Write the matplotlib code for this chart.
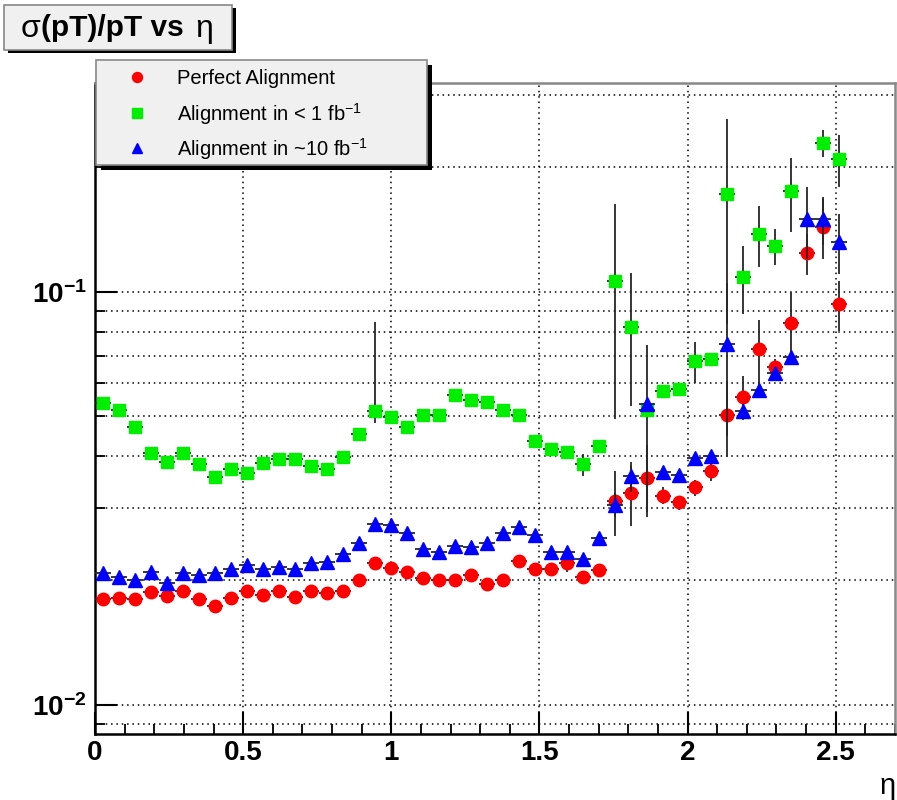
import numpy as np
import matplotlib
matplotlib.use('Agg')
import matplotlib.pyplot as plt
from matplotlib.patches import Rectangle
from matplotlib.lines import Line2D
from matplotlib.ticker import FixedLocator, FixedFormatter, MultipleLocator, NullFormatter

plt.rcParams['font.family'] = ['Liberation Sans', 'DejaVu Sans']
plt.rcParams['mathtext.fontset'] = 'custom'
plt.rcParams['mathtext.rm'] = 'Liberation Sans'
plt.rcParams['mathtext.bf'] = 'Liberation Sans:bold'
plt.rcParams['mathtext.it'] = 'Liberation Sans:italic'

# eta bin centres (50 bins over 0-2.7, first 47 filled)
eta = [0.027, 0.081, 0.135, 0.189, 0.243, 0.297, 0.351, 0.405, 0.459, 0.513,
       0.567, 0.621, 0.675, 0.729, 0.783, 0.837, 0.891, 0.945, 0.999, 1.053,
       1.107, 1.161, 1.215, 1.269, 1.323, 1.377, 1.431, 1.485, 1.539, 1.593,
       1.647, 1.701, 1.755, 1.809, 1.863, 1.917, 1.971, 2.025, 2.079, 2.133,
       2.187, 2.241, 2.295, 2.349, 2.403, 2.457, 2.511]
bin_half = 0.027

perfect = [0.0180, 0.0181, 0.0180, 0.0188, 0.0183, 0.0189, 0.0180, 0.0173, 0.0181, 0.0189,
           0.0184, 0.0189, 0.0182, 0.0189, 0.0187, 0.0189, 0.0200, 0.0220, 0.0214, 0.0210,
           0.0203, 0.0201, 0.0201, 0.0206, 0.0196, 0.0201, 0.0223, 0.0213, 0.0213, 0.0220,
           0.0204, 0.0212, 0.0312, 0.0325, 0.0355, 0.0321, 0.0309, 0.0336, 0.0368, 0.0504,
           0.0557, 0.0725, 0.0658, 0.0838, 0.1239, 0.1437, 0.0934]
perfect_err = [0.0004, 0.0004, 0.0004, 0.0004, 0.0004, 0.0004, 0.0004, 0.0004, 0.0004, 0.0004,
               0.0004, 0.0004, 0.0004, 0.0004, 0.0004, 0.0004, 0.0004, 0.0004, 0.0004, 0.0004,
               0.0004, 0.0004, 0.0004, 0.0004, 0.0004, 0.0004, 0.0004, 0.0004, 0.0004, 0.0010,
               0.0005, 0.0005, 0.0056, 0.0054, 0.0070, 0.0015, 0.0012, 0.0015, 0.0020, 0.0105,
               0.0067, 0.0130, 0.0030, 0.0160, 0.0140, 0.0240, 0.0130]

early = [0.0537, 0.0518, 0.0470, 0.0408, 0.0388, 0.0406, 0.0383, 0.0356, 0.0372, 0.0364,
         0.0385, 0.0394, 0.0394, 0.0379, 0.0373, 0.0399, 0.0453, 0.0514, 0.0497, 0.0471,
         0.0502, 0.0502, 0.0562, 0.0547, 0.0541, 0.0517, 0.0502, 0.0436, 0.0416, 0.0409,
         0.0382, 0.0422, 0.1063, 0.0820, 0.0518, 0.0576, 0.0581, 0.0678, 0.0686, 0.1723,
         0.1087, 0.1380, 0.1290, 0.1752, np.nan, 0.2286, 0.2094]
early_err_lo = [0.0008, 0.0008, 0.0008, 0.0008, 0.0008, 0.0008, 0.0008, 0.0008, 0.0008, 0.0008,
                0.0008, 0.0008, 0.0008, 0.0008, 0.0008, 0.0008, 0.0008, 0.0034, 0.0008, 0.0008,
                0.0008, 0.0008, 0.0008, 0.0008, 0.0008, 0.0008, 0.0008, 0.0008, 0.0008, 0.0008,
                0.0023, 0.0008, 0.0570, 0.0290, 0.0225, 0.0018, 0.0015, 0.0078, 0.0020, 0.0890,
                0.0205, 0.0230, 0.0130, 0.0360, 0.0, 0.0170, 0.0300]
early_err_hi = [0.0008, 0.0008, 0.0008, 0.0008, 0.0008, 0.0008, 0.0008, 0.0008, 0.0008, 0.0008,
                0.0008, 0.0008, 0.0008, 0.0008, 0.0008, 0.0008, 0.0008, 0.0330, 0.0008, 0.0008,
                0.0008, 0.0008, 0.0008, 0.0008, 0.0008, 0.0008, 0.0008, 0.0008, 0.0008, 0.0008,
                0.0023, 0.0008, 0.0570, 0.0290, 0.0225, 0.0018, 0.0015, 0.0078, 0.0020, 0.0890,
                0.0205, 0.0230, 0.0130, 0.0360, 0.0, 0.0170, 0.0300]

later = [0.0208, 0.0204, 0.0201, 0.0210, 0.0197, 0.0209, 0.0206, 0.0208, 0.0213, 0.0218,
         0.0213, 0.0215, 0.0213, 0.0220, 0.0222, 0.0232, 0.0247, 0.0274, 0.0272, 0.0261,
         0.0239, 0.0235, 0.0243, 0.0241, 0.0247, 0.0261, 0.0269, 0.0257, 0.0234, 0.0235,
         0.0226, 0.0253, 0.0305, 0.0358, 0.0534, 0.0367, 0.0361, 0.0395, 0.0400, 0.0747,
         0.0514, 0.0578, 0.0637, 0.0696, 0.1497, 0.1497, 0.1321]
later_err = [0.0005, 0.0005, 0.0005, 0.0005, 0.0005, 0.0005, 0.0005, 0.0005, 0.0005, 0.0005,
             0.0005, 0.0005, 0.0005, 0.0005, 0.0005, 0.0005, 0.0005, 0.0005, 0.0005, 0.0005,
             0.0005, 0.0005, 0.0005, 0.0005, 0.0005, 0.0005, 0.0005, 0.0005, 0.0005, 0.0005,
             0.0005, 0.0005, 0.0020, 0.0030, 0.0020, 0.0010, 0.0010, 0.0010, 0.0010, 0.0300,
             0.0020, 0.0020, 0.0020, 0.0020, 0.0300, 0.0200, 0.0220]

legend_labels = ['Perfect Alignment', 'Alignment in < 1 fb$^{-1}$', 'Alignment in ~10 fb$^{-1}$']
xtick_vals = [0, 0.5, 1, 1.5, 2, 2.5]
xtick_labels = ['0', '0.5', '1', '1.5', '2', '2.5']
ytick_vals = [0.01, 0.1]
ytick_labels = [r'$\mathbf{10^{-2}}$', r'$\mathbf{10^{-1}}$']
yminor_vals = [0.009, 0.02, 0.03, 0.04, 0.05, 0.06, 0.07, 0.08, 0.09, 0.2, 0.3]

W, H = 897, 800
fig = plt.figure(figsize=(W / 100, H / 100), dpi=100)
fig.patch.set_facecolor('white')

def fx(px):
    return px / W

def fy(py):
    return 1 - py / H

ax = fig.add_axes([fx(95), fy(734), fx(895) - fx(95), fy(83) - fy(734)])
ax.set_yscale('log')
ax.set_xlim(0, 2.7)
ax.set_ylim(0.0085, 0.32)

ekw = dict(xerr=bin_half, ls='none', ecolor='0.15', elinewidth=1.3, capsize=0)
ax.errorbar(eta, perfect, yerr=perfect_err, marker='o', ms=9, color='#ff0000', mec='#ff0000', zorder=3, **ekw)
ax.errorbar(eta, early, yerr=[early_err_lo, early_err_hi], marker='s', ms=8.5, color='#00ee00',
            mec='#00ee00', zorder=4, **ekw)
ax.errorbar(eta, later, yerr=later_err, marker='^', ms=9.5, color='#0000ff', mec='#0000ff', zorder=5, **ekw)

# ticks
ax.xaxis.set_major_locator(FixedLocator(xtick_vals))
ax.xaxis.set_major_formatter(FixedFormatter(xtick_labels))
ax.xaxis.set_minor_locator(MultipleLocator(0.1))
ax.yaxis.set_major_locator(FixedLocator(ytick_vals))
ax.yaxis.set_major_formatter(FixedFormatter(ytick_labels))
ax.yaxis.set_minor_locator(FixedLocator(yminor_vals))
ax.yaxis.set_minor_formatter(NullFormatter())

ax.tick_params(axis='both', which='major', direction='in', length=15.5, width=1.5, colors='black',
               labelsize=20, pad=4)
ax.tick_params(axis='both', which='minor', direction='in', length=7.5, width=1.3)
ax.tick_params(axis='y', which='major', pad=6)
for lab in ax.get_xticklabels():
    lab.set_fontweight('bold')

ax.grid(True, which='major', axis='both', color='black', linestyle=(0, (1, 2.5)), linewidth=1.1)
ax.grid(True, which='minor', axis='y', color='black', linestyle=(0, (1, 2.5)), linewidth=1.1)
ax.set_axisbelow(True)

for side in ['left', 'bottom']:
    ax.spines[side].set_linewidth(1.8)
    ax.spines[side].set_color('black')
for side in ['top', 'right']:
    ax.spines[side].set_linewidth(1.8)
    ax.spines[side].set_color('#888888')

fig.text(fx(888), fy(786), 'η', fontsize=21, ha='center', va='center')

# title box
fig.add_artist(Rectangle((fx(8), fy(53)), fx(232) - fx(4), fy(5) - fy(50), transform=fig.transFigure,
                         facecolor='black', edgecolor='none', zorder=10))
fig.add_artist(Rectangle((fx(4), fy(50)), fx(232) - fx(4), fy(5) - fy(50), transform=fig.transFigure,
                         facecolor='#f0f0f0', edgecolor='#888888', linewidth=1.2, zorder=11))
fig.text(fx(21), fy(29), 'σ', fontsize=23, ha='left', va='center', zorder=12)
fig.text(fx(41), fy(28), '(pT)/pT vs', fontsize=21.5, fontweight='bold', ha='left', va='center', zorder=12)
fig.text(fx(213), fy(29), 'η', fontsize=23, ha='right', va='center', zorder=12)

# legend box
fig.add_artist(Rectangle((fx(101), fy(170)), fx(427) - fx(96), fy(60) - fy(165), transform=fig.transFigure,
                         facecolor='black', edgecolor='none', zorder=10))
fig.add_artist(Rectangle((fx(96), fy(165)), fx(427) - fx(96), fy(60) - fy(165), transform=fig.transFigure,
                         facecolor='#f0f0f0', edgecolor='#888888', linewidth=1.2, zorder=11))
leg_markers = ['o', 's', '^']
leg_sizes = [9, 8.5, 9.5]
leg_colors = ['#ff0000', '#00ee00', '#0000ff']
leg_rows = [77, 113, 148]
for m, s, c, ry, lab in zip(leg_markers, leg_sizes, leg_colors, leg_rows, legend_labels):
    fig.add_artist(Line2D([fx(137)], [fy(ry)], transform=fig.transFigure, marker=m, color=c, mec=c,
                          ms=s * 0.8, ls='none', zorder=12))
    fig.text(fx(177), fy(ry + 1), lab, fontsize=14.5, ha='left', va='center', zorder=12)

fig.savefig('out.png', dpi=100)
